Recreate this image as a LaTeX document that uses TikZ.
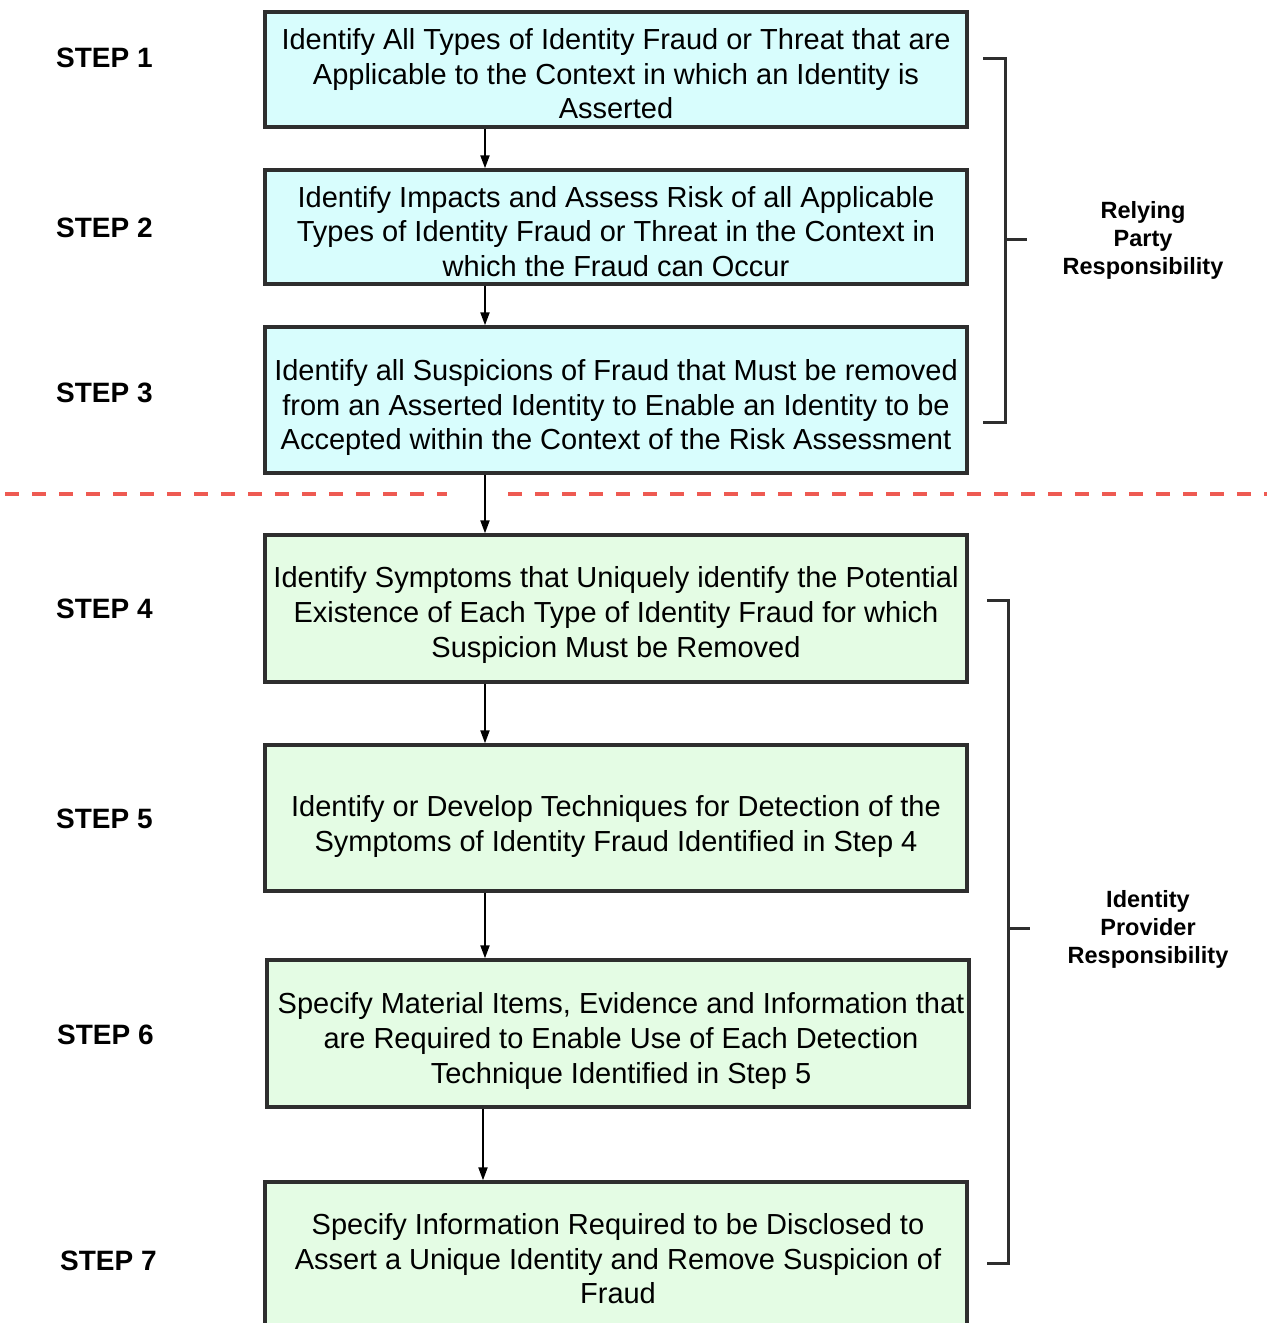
\documentclass[tikz,border=0pt]{standalone}
\usepackage{fontspec}
\setmainfont{Liberation Sans}
\usetikzlibrary{arrows.meta}
\definecolor{cyanfill}{HTML}{D8FDFD}
\definecolor{greenfill}{HTML}{E4FCE4}
\definecolor{boxline}{HTML}{2E2E2E}
\definecolor{reddash}{HTML}{EE5A52}
\tikzset{
  stepbox/.style={draw=boxline, line width=3.4pt, minimum width=702pt, inner sep=0pt},
  bluebox/.style={stepbox, fill=cyanfill},
  greenbox/.style={stepbox, fill=greenfill},
  boxtext/.style={align=center, inner sep=0pt, font=\fontsize{29}{34.6}\selectfont},
  steplabel/.style={anchor=west, inner sep=0pt, font=\fontsize{28}{30}\selectfont\bfseries},
  resplabel/.style={align=center, inner sep=0pt, font=\fontsize{23.5}{28}\selectfont\bfseries},
  arr/.style={line width=2pt, -{Triangle[length=13pt,width=9pt]}},
  bracket/.style={line width=3pt, draw=boxline},
  sepline/.style={draw=reddash, line width=4pt, dash pattern=on 14pt off 13pt}
}
\begin{document}
\begin{tikzpicture}[x=1pt,y=-1pt]
\clip (0,0) rectangle (1267,1323);
\fill[white] (0,0) rectangle (1267,1323);

% boxes
\node[bluebox, minimum height=115pt] (b1) at (616,69.5) {};
\node[bluebox, minimum height=114pt] (b2) at (616,227) {};
\node[bluebox, minimum height=146pt] (b3) at (616,400) {};
\node[greenbox, minimum height=147pt] (b4) at (616,608.5) {};
\node[greenbox, minimum height=146pt] (b5) at (616,818) {};
\node[greenbox, minimum height=147pt] (b6) at (618,1033.5) {};
\node[greenbox, minimum height=154pt] (b7) at (616,1259) {};

% box texts
\node[boxtext] (t1) at ([yshift=-4.5pt]b1.center)
  {Identify All Types of Identity Fraud or Threat that are\\Applicable to the Context in which an Identity is\\Asserted};
\node[boxtext] (t2) at ([yshift=-4.5pt]b2.center)
  {Identify Impacts and Assess Risk of all Applicable\\Types of Identity Fraud or Threat in the Context in\\which the Fraud can Occur};
\node[boxtext] (t3) at ([yshift=-7.5pt]b3.center)
  {Identify all Suspicions of Fraud that Must be removed\\from an Asserted Identity to Enable an Identity to be\\Accepted within the Context of the Risk Assessment};
\node[boxtext] (t4) at ([yshift=-6.5pt]b4.center)
  {Identify Symptoms that Uniquely identify the Potential\\Existence of Each Type of Identity Fraud for which\\Suspicion Must be Removed};
\node[boxtext] (t5) at ([yshift=-8.5pt]b5.center)
  {Identify or Develop Techniques for Detection of the\\Symptoms of Identity Fraud Identified in Step 4};
\node[boxtext] (t6) at ([xshift=3pt,yshift=-7.5pt]b6.center)
  {Specify Material Items, Evidence and Information that\\are Required to Enable Use of Each Detection\\Technique Identified in Step 5};
\node[boxtext] (t7) at (618,1259)
  {Specify Information Required to be Disclosed to\\Assert a Unique Identity and Remove Suspicion of\\Fraud};

% step labels
\node[steplabel] (s1) at (56,58) {STEP 1};
\node[steplabel] (s2) at (56,228) {STEP 2};
\node[steplabel] (s3) at (56,393) {STEP 3};
\node[steplabel] (s4) at (56,609) {STEP 4};
\node[steplabel] (s5) at (56,819) {STEP 5};
\node[steplabel] (s6) at (57,1035) {STEP 6};
\node[steplabel] (s7) at (60,1261) {STEP 7};

% arrows
\coordinate (ax) at (485,0);
\coordinate (ax2) at (483,0);
\draw[arr] (b1.south -| ax) -- (b2.north -| ax);
\draw[arr] (b2.south -| ax) -- (b3.north -| ax);
\draw[arr] (b3.south -| ax) -- (b4.north -| ax);
\draw[arr] (b4.south -| ax) -- (b5.north -| ax);
\draw[arr] (b5.south -| ax) -- (b6.north -| ax);
\draw[arr] (b6.south -| ax2) -- (b7.north -| ax2);

% separator
\draw[sepline] (5,494) -- (447,494);
\draw[sepline] (508,494) -- (1267,494);

% brackets
\draw[bracket] (983,58) -- (1005,58) -- (1005,422) -- (983,422);
\draw[bracket] (1005,239) -- (1027,239);
\draw[bracket] (987,600) -- (1008,600) -- (1008,1263) -- (987,1263);
\draw[bracket] (1008,928) -- (1030,928);

\node[resplabel] (r1) at (1143,240) {Relying\\Party\\Responsibility};
\node[resplabel] (r2) at (1148,929) {Identity\\Provider\\Responsibility};
\end{tikzpicture}
\end{document}
